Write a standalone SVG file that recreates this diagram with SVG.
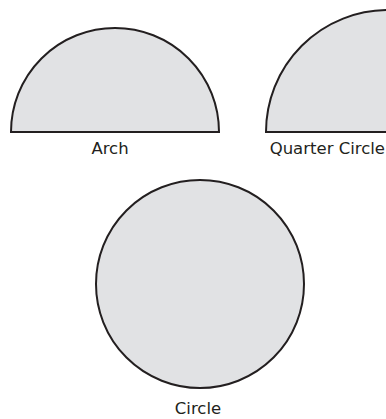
<svg xmlns="http://www.w3.org/2000/svg" width="386" height="419" viewBox="0 0 386 419">
<style>
.shape{fill:#e1e2e4;stroke:#231f20;stroke-width:2}
.lbl{font-family:"DejaVu Sans","Liberation Sans",sans-serif;font-size:16.5px;fill:#231f20}
</style>
<rect width="386" height="419" fill="#ffffff"/>
<g id="arch">
<path class="shape" d="M11,132 A104,104 0 0 1 219,132 Z"/>
<text class="lbl" x="110" y="154" text-anchor="middle">Arch</text>
</g>
<g id="quarter-circle">
<path class="shape" d="M266,132 A122,122 0 0 1 388,10 L388,132 Z"/>
<text class="lbl" x="385" y="154" text-anchor="end">Quarter Circle</text>
</g>
<g id="circle">
<circle class="shape" cx="200" cy="284" r="104"/>
<text class="lbl" x="198" y="414" text-anchor="middle">Circle</text>
</g>
<g id="connectors"/>
</svg>
